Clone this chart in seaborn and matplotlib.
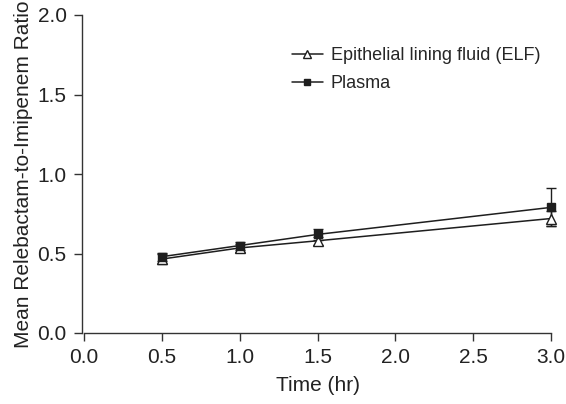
import matplotlib
matplotlib.use("Agg")
import matplotlib.pyplot as plt
import seaborn as sns

# time points (hr)
time_hr = [0.5, 1.0, 1.5, 3.0]

# epithelial lining fluid
elf_mean = [0.465, 0.535, 0.58, 0.72]
elf_sd = [0.03, 0.025, 0.025, 0.05]

# plasma
plasma_mean = [0.48, 0.55, 0.62, 0.79]
plasma_sd = [0.025, 0.025, 0.035, 0.12]

series_names = ["Epithelial lining fluid (ELF)", "Plasma"]

x_ticks = [0.0, 0.5, 1.0, 1.5, 2.0, 2.5, 3.0]
y_ticks = [0.0, 0.5, 1.0, 1.5, 2.0]

INK = "#1e1e1e"


def draw_series(ax, means, sds, label, marker, face, size) -> None:
    bars = ax.errorbar(time_hr, means, yerr=sds, fmt="none", ecolor=INK,
                       elinewidth=1.0, capsize=3.5, capthick=1.0, zorder=2)
    for part in bars.lines[1] + bars.lines[2]:
        part.set_clip_on(False)
    sns.lineplot(x=time_hr, y=means, ax=ax, color=INK, linewidth=1.1,
                 marker=marker, markersize=size, markerfacecolor=face,
                 markeredgecolor=INK, markeredgewidth=1.0, label=label,
                 zorder=3, clip_on=False)


def main() -> None:
    sns.set_style("ticks")
    plt.rcParams["font.family"] = ["Liberation Sans", "DejaVu Sans"]

    fig = plt.figure(figsize=(5.66, 4.04), dpi=100)
    ax = fig.add_axes([84 / 566, 71 / 404, 467 / 566, 318 / 404])

    draw_series(ax, elf_mean, elf_sd, series_names[0], "^", "white", 7.5)
    draw_series(ax, plasma_mean, plasma_sd, series_names[1], "s", INK, 5.5)

    ax.set_xlim(0, 3.0)
    ax.set_ylim(0, 2.0)
    ax.set_xticks(x_ticks)
    ax.set_yticks(y_ticks)
    ax.set_xticklabels([f"{t:.1f}" for t in x_ticks])
    ax.set_yticklabels([f"{t:.1f}" for t in y_ticks])
    ax.tick_params(labelsize=15, length=6, width=1, pad=5, colors="#333333",
                   labelcolor="#222222")
    ax.set_xlabel("Time (hr)", fontsize=15, color="#222222", labelpad=6)
    ax.set_ylabel("Mean Relebactam-to-Imipenem Ratio", fontsize=15,
                  color="#222222", labelpad=3)

    sns.despine(ax=ax)
    for side in ["left", "bottom"]:
        ax.spines[side].set_color("#333333")
        ax.spines[side].set_linewidth(1)
    ax.spines["left"].set_position(("outward", 1.5))

    ax.legend(loc="upper left", bbox_to_anchor=(292 / 566, 1 - 47 / 404),
              bbox_transform=fig.transFigure, frameon=False, fontsize=13,
              handlelength=1.7, handletextpad=0.45, labelspacing=0.62,
              borderpad=0, borderaxespad=0, markerscale=0.75)

    fig.savefig("out.png", dpi=100)
    plt.close(fig)


if __name__ == "__main__":
    main()
